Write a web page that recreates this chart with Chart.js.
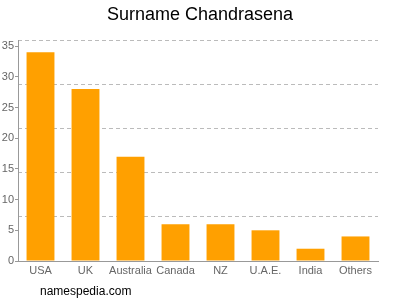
<!DOCTYPE html>
<html>
<head>
  <title>Surname Chandrasena</title>
  <script src="https://cdn.jsdelivr.net/npm/chart.js"></script>
  <style>
    body { margin: 0; background: #fff; font-family: "Liberation Sans", Arial, sans-serif; }
    #wrap { position: relative; width: 400px; height: 300px; }
    #title { position: absolute; top: 4px; left: 0; width: 400px; text-align: center; font-size: 18px; color: #000; }
    #footer { position: absolute; top: 284px; left: 40px; font-size: 12px; color: #000; }
  </style>
</head>
<body>
  <div id="wrap">
    <canvas id="surnameChart" width="400" height="300"></canvas>
    <div id="title">Surname Chandrasena</div>
    <div id="footer">namespedia.com</div>
  </div>

  <script>
    // data
    const countries = ['USA', 'UK', 'Australia', 'Canada', 'NZ', 'U.A.E.', 'India', 'Others'];
    const counts = [34, 28, 17, 6, 6, 5, 2, 4];
    const yTicks = [0, 5, 10, 15, 20, 25, 30, 35];
    const gridLines = [7.2, 14.4, 21.6, 28.8, 36];
    const yMax = 36;

    const ctx = document.getElementById('surnameChart').getContext('2d');
    const chart = new Chart(ctx, {
        type: 'bar',
        data: {
            labels: countries,
            datasets: [{
                data: counts,
                backgroundColor: '#ffa000',
                borderWidth: 0,
                categoryPercentage: 1,
                barPercentage: 0.62
            }]
        },
        options: {
            responsive: false,
            animation: false,
            layout: { padding: { top: 40, right: 22, left: 0, bottom: 0 } },
            plugins: {
                legend: { display: false },
                tooltip: { enabled: false }
            },
            scales: {
                x: {
                    grid: { display: false, drawTicks: false },
                    border: { color: '#999' },
                    ticks: { color: '#666', font: { family: 'Liberation Sans', size: 11 }, padding: 3,
                             maxRotation: 0, minRotation: 0, autoSkip: false },
                    afterFit: (axis) => { axis.height = 39; }
                },
                y: {
                    min: 0,
                    max: yMax,
                    grid: { drawOnChartArea: false, tickLength: 3, color: '#999' },
                    border: { color: '#999' },
                    ticks: { color: '#666', font: { family: 'Liberation Sans', size: 11 }, padding: 1 },
                    afterBuildTicks: (axis) => { axis.ticks = yTicks.map(v => ({ value: v })); },
                    afterFit: (axis) => { axis.width = 18; }
                },
                g: {
                    position: 'right',
                    min: 0,
                    max: yMax,
                    grid: { color: '#bbb', drawTicks: false },
                    border: { display: false, dash: [4, 3] },
                    ticks: { display: false },
                    afterBuildTicks: (axis) => { axis.ticks = gridLines.map(v => ({ value: v })); },
                    afterFit: (axis) => { axis.width = 0; }
                }
            }
        }
    });
  </script>
</body>
</html>
